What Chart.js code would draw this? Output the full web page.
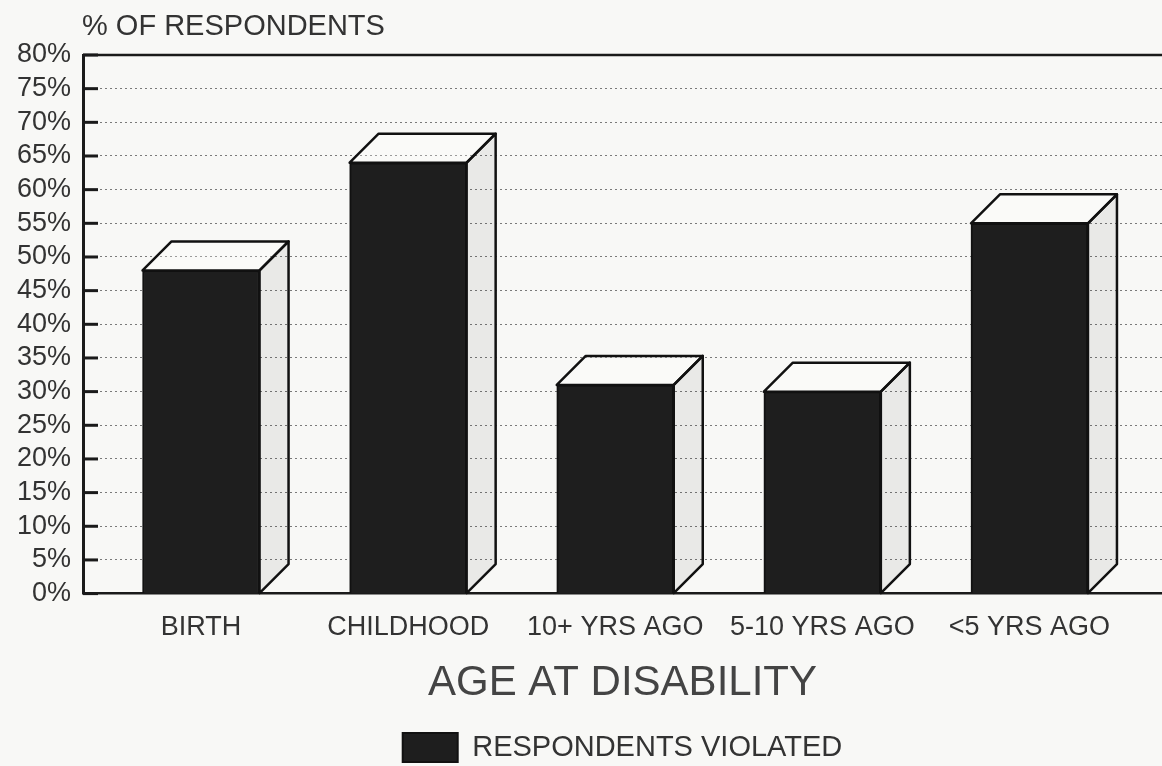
<!DOCTYPE html>
<html>
<head>
<meta charset="utf-8">
<script src="https://cdn.jsdelivr.net/npm/chart.js@4.4.0/dist/chart.umd.min.js"></script>
<style>
  html, body { margin: 0; padding: 0; background: #f8f8f6; }
</style>
</head>
<body>
<canvas id="chart1" width="1162" height="766"></canvas>
<script>
const categories = ["BIRTH", "CHILDHOOD", "10+ YRS AGO", "5-10 YRS AGO", "<5 YRS AGO"];
const violated = [48, 64, 31, 30, 55];
const yMax = 80;
const yStep = 5;

const FONT = "'Liberation Sans', Arial, Helvetica, sans-serif";
const DEPTH = 29; // 3d offset of the boxes

// frame, inner tick marks and the "% OF RESPONDENTS" label
const framePlugin = {
  id: "frame",
  beforeDatasetsDraw(chart) {
    const { ctx, chartArea, scales } = chart;
    const y = scales.y;
    ctx.save();
    ctx.strokeStyle = "#1a1a1a";
    ctx.lineWidth = 3;
    y.ticks.forEach((t) => {
      const py = y.getPixelForValue(t.value);
      ctx.beginPath();
      ctx.moveTo(chartArea.left, py);
      ctx.lineTo(chartArea.left + 15, py);
      ctx.stroke();
    });
    ctx.lineWidth = 2.5;
    ctx.beginPath();
    ctx.moveTo(chartArea.left, chartArea.top);
    ctx.lineTo(chartArea.right, chartArea.top);
    ctx.stroke();
    ctx.restore();
  },
  afterDraw(chart) {
    const { ctx, chartArea } = chart;
    ctx.save();
    ctx.fillStyle = "#333";
    ctx.font = "29px " + FONT;
    ctx.textBaseline = "alphabetic";
    ctx.textAlign = "left";
    ctx.fillText("% OF RESPONDENTS", chartArea.left - 1, 35);
    ctx.restore();
  },
};

// top and side faces for each bar
const boxPlugin = {
  id: "box3d",
  afterDatasetsDraw(chart) {
    const { ctx } = chart;
    const meta = chart.getDatasetMeta(0);
    ctx.save();
    ctx.strokeStyle = "#111";
    ctx.lineWidth = 2.5;
    ctx.lineJoin = "round";
    meta.data.forEach((bar) => {
      const { x, y, base, width } = bar.getProps(["x", "y", "base", "width"], true);
      const l = x - width / 2;
      const r = x + width / 2;
      // top
      ctx.beginPath();
      ctx.moveTo(l, y);
      ctx.lineTo(l + DEPTH, y - DEPTH);
      ctx.lineTo(r + DEPTH, y - DEPTH);
      ctx.lineTo(r, y);
      ctx.closePath();
      ctx.fillStyle = "rgba(255,255,255,0.25)";
      ctx.fill();
      ctx.stroke();
      // side
      ctx.beginPath();
      ctx.moveTo(r, y);
      ctx.lineTo(r + DEPTH, y - DEPTH);
      ctx.lineTo(r + DEPTH, base - DEPTH);
      ctx.lineTo(r, base);
      ctx.closePath();
      ctx.fillStyle = "rgba(0,0,0,0.06)";
      ctx.fill();
      ctx.stroke();
    });
    ctx.restore();
  },
};

const chart1 = document.getElementById("chart1").getContext("2d");

const violatedChart = new Chart(chart1, {
  type: "bar",
  data: {
    datasets: [
      {
        label: "RESPONDENTS VIOLATED",
        data: categories.map((c, i) => ({ x: i, y: violated[i] })),
        backgroundColor: "#1e1e1e",
        borderColor: "#111",
        borderWidth: 2,
        barThickness: 117,
      },
    ],
  },
  plugins: [framePlugin, boxPlugin],
  options: {
    responsive: false,
    animation: false,
    layout: { padding: { top: 55, right: 0, bottom: -6, left: 0 } },
    plugins: {
      tooltip: { enabled: false },
      legend: {
        position: "bottom",
        fullSize: false,
        labels: {
          boxWidth: 55,
          boxHeight: 29,
          color: "#333",
          padding: 2,
          font: { family: FONT, size: 29, lineHeight: 1.15 },
        },
      },
    },
    scales: {
      x: {
        type: "linear",
        offset: false,
        min: -0.57,
        max: 4.64,
        grid: { display: false },
        border: { display: true, color: "#1a1a1a", width: 2.5 },
        ticks: {
          stepSize: 1,
          includeBounds: false,
          autoSkip: false,
          maxRotation: 0,
          padding: 9.5,
          color: "#333",
          font: { family: FONT, size: 27 },
          callback: (v) => (Number.isInteger(v) ? categories[v] : ""),
        },
        title: {
          display: true,
          text: "AGE AT DISABILITY",
          color: "#444",
          font: { family: FONT, size: 42, lineHeight: 1 },
          padding: { top: 9, bottom: 27 },
        },
      },
      y: {
        min: 0,
        max: yMax,
        afterFit(scale) {
          scale.width = 83;
        },
        grid: { color: "#7a7a7a", lineWidth: 1, drawTicks: false },
        border: { display: true, color: "#1a1a1a", width: 3, dash: [2, 3] },
        ticks: {
          stepSize: yStep,
          autoSkip: false,
          padding: 12,
          color: "#333",
          font: { family: FONT, size: 27 },
          callback: (v) => v + "%",
        },
      },
    },
  },
});
</script>
</body>
</html>
